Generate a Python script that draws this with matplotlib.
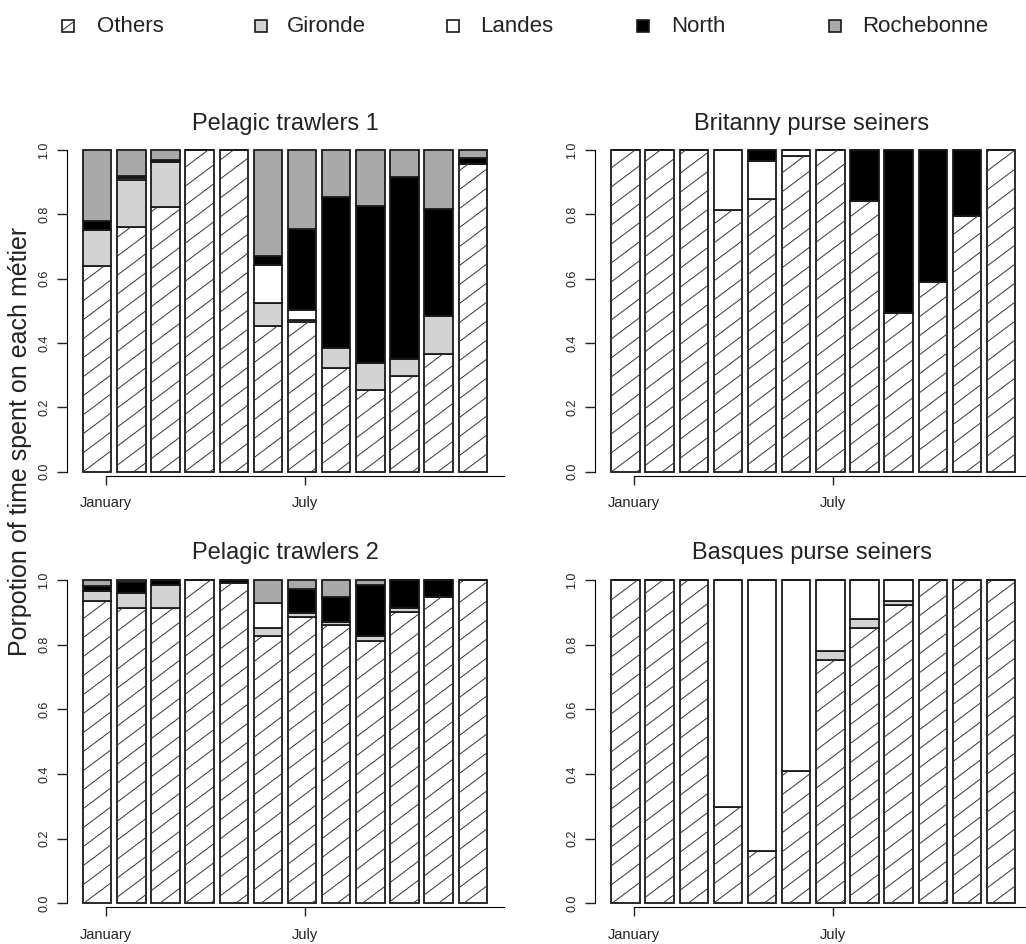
import numpy as np
import matplotlib.pyplot as plt
from matplotlib.patches import Rectangle
from matplotlib.collections import LineCollection
from matplotlib import font_manager

plt.rcParams['font.family'] = ['Liberation Sans', 'DejaVu Sans']

# 类别与颜色
categories = ['Others', 'Gironde', 'Landes', 'North', 'Rochebonne']
fills = ['white', '#d3d3d3', 'white', 'black', '#a9a9a9']
month_ticks = ['January', 'July']

# Pelagic trawlers 1
pt1_others = [0.638, 0.760, 0.824, 1.0, 1.0, 0.452, 0.465, 0.321, 0.253, 0.298, 0.367, 0.955]
pt1_gironde = [0.112, 0.147, 0.139, 0, 0, 0.072, 0.008, 0.062, 0.085, 0.053, 0.116, 0]
pt1_landes = [0, 0.006, 0, 0, 0, 0.117, 0.029, 0, 0, 0, 0, 0]
pt1_north = [0.029, 0.007, 0.007, 0, 0, 0.029, 0.251, 0.470, 0.487, 0.564, 0.333, 0.020]
pt1_roche = [0.221, 0.080, 0.030, 0, 0, 0.330, 0.247, 0.147, 0.175, 0.085, 0.184, 0.025]

# Britanny purse seiners
bps_others = [1.0, 1.0, 1.0, 0.814, 0.847, 0.981, 1.0, 0.840, 0.494, 0.590, 0.795, 1.0]
bps_gironde = [0] * 12
bps_landes = [0, 0, 0, 0.186, 0.120, 0.019, 0, 0, 0, 0, 0, 0]
bps_north = [0, 0, 0, 0, 0.033, 0, 0, 0.160, 0.506, 0.410, 0.205, 0]
bps_roche = [0] * 12

# Pelagic trawlers 2
pt2_others = [0.936, 0.914, 0.914, 1.0, 0.992, 0.827, 0.886, 0.860, 0.812, 0.901, 0.948, 1.0]
pt2_gironde = [0.030, 0.045, 0.070, 0, 0, 0.023, 0.013, 0.011, 0.014, 0.011, 0, 0]
pt2_landes = [0, 0, 0, 0, 0, 0.078, 0, 0, 0, 0, 0, 0]
pt2_north = [0.015, 0.035, 0.016, 0, 0.008, 0, 0.072, 0.077, 0.158, 0.088, 0.052, 0]
pt2_roche = [0.019, 0.006, 0, 0, 0, 0.072, 0.029, 0.052, 0.016, 0, 0, 0]

# Basques purse seiners
bas_others = [1.0, 1.0, 1.0, 0.298, 0.163, 0.410, 0.754, 0.850, 0.924, 1.0, 1.0, 1.0]
bas_gironde = [0, 0, 0, 0, 0, 0, 0.026, 0.028, 0.012, 0, 0, 0]
bas_landes = [0, 0, 0, 0.702, 0.837, 0.590, 0.220, 0.122, 0.064, 0, 0, 0]
bas_north = [0] * 12
bas_roche = [0] * 12

W, H = 1026, 944
fig = plt.figure(figsize=(W / 100, H / 100), dpi=100)

PX_X = 28.46          # 每个柱单位的像素
X_LO, X_HI = -0.37, 15.0
xpos = 0.7 + 1.2 * np.arange(12)


def hatch_bar(ax, rect, py):
    # 斜线填充，裁剪到柱子内部
    m = 0.75 * PX_X / py
    sp = 19.0 / py
    cs = np.arange(-m * X_HI - 0.2, 1.1, sp)
    segs = [[(X_LO, c + m * X_LO), (X_HI, c + m * X_HI)] for c in cs]
    lc = LineCollection(segs, colors='#333333', linewidths=0.7, zorder=3)
    ax.add_collection(lc)
    lc.set_clip_path(rect)


def panel(left, top, bottom, series):
    width = (X_HI - X_LO) * PX_X
    ax = fig.add_axes([left / W, 1 - bottom / H, width / W, (bottom - top) / H])
    py = bottom - top
    base = np.zeros(12)
    for k, vals in enumerate(series):
        vals = np.array(vals, dtype=float)
        bars = ax.bar(xpos, vals, width=1.0, bottom=base, color=fills[k],
                      edgecolor='#1a1a1a', linewidth=1.3, clip_on=False, zorder=2)
        if k == 0:
            for rect in bars:
                hatch_bar(ax, rect, py)
        base += vals
    ax.set_xlim(X_LO, X_HI)
    ax.set_ylim(0, 1)
    for s in ['top', 'right']:
        ax.spines[s].set_visible(False)
    ax.spines['left'].set_bounds(0, 1)
    ax.spines['bottom'].set_bounds(1, X_HI)
    ax.spines['bottom'].set_position(('outward', 3))
    ax.set_yticks([0, 0.2, 0.4, 0.6, 0.8, 1.0])
    ax.set_yticklabels(['0.0', '0.2', '0.4', '0.6', '0.8', '1.0'], rotation=90, va='center')
    ax.set_xticks([1, 8])
    ax.set_xticklabels(month_ticks)
    ax.tick_params(axis='y', length=7, width=1, pad=5, labelsize=9, colors='#222222')
    ax.tick_params(axis='x', length=6.5, width=1, pad=8, labelsize=10.5, colors='#222222')
    ax.patch.set_alpha(0)
    return ax


panel(66.7, 150, 471.7, [pt1_others, pt1_gironde, pt1_landes, pt1_north, pt1_roche])
panel(595, 150, 471.7, [bps_others, bps_gironde, bps_landes, bps_north, bps_roche])
panel(66.7, 580, 903.3, [pt2_others, pt2_gironde, pt2_landes, pt2_north, pt2_roche])
panel(595, 580, 903.3, [bas_others, bas_gironde, bas_landes, bas_north, bas_roche])

# 标题、图例等放在像素坐标的覆盖层上
over = fig.add_axes([0, 0, 1, 1], zorder=-1)
over.set_xlim(0, W)
over.set_ylim(H, 0)
over.axis('off')

titles = ['Pelagic trawlers 1', 'Britanny purse seiners', 'Pelagic trawlers 2', 'Basques purse seiners']
tpos = [(285, 124), (812, 124), (285, 553), (812, 553)]
for t, (x, y) in zip(titles, tpos):
    over.text(x, y, t, ha='center', va='center', fontsize=17, color='#222222')

over.text(20, 441, 'Porpotion of time spent on each métier', rotation=90,
          ha='center', va='center', fontsize=18, color='#222222')

names = [f.name for f in font_manager.fontManager.ttflist]
leg_font = 'Liberation Sans Narrow' if 'Liberation Sans Narrow' in names else 'Liberation Sans'
leg_size = 20 if leg_font == 'Liberation Sans Narrow' else 16

box_x = [68, 261, 453, 643, 835]
text_x = [97, 287, 480, 671, 862]
for k, name in enumerate(categories):
    r = Rectangle((box_x[k] - 6, 26 - 6), 12, 12, facecolor=fills[k],
                  edgecolor='#1a1a1a', linewidth=1.2)
    over.add_patch(r)
    if k == 0:
        lc = LineCollection([[(box_x[k] - 12, 26 + 9), (box_x[k] + 12, 26 - 9)]],
                            colors='#333333', linewidths=0.7)
        over.add_collection(lc)
        lc.set_clip_path(r)
    over.text(text_x[k], 27, name, ha='left', va='center', fontsize=leg_size,
              family=[leg_font, 'DejaVu Sans'], color='#222222')

fig.savefig('out.png', dpi=100)
